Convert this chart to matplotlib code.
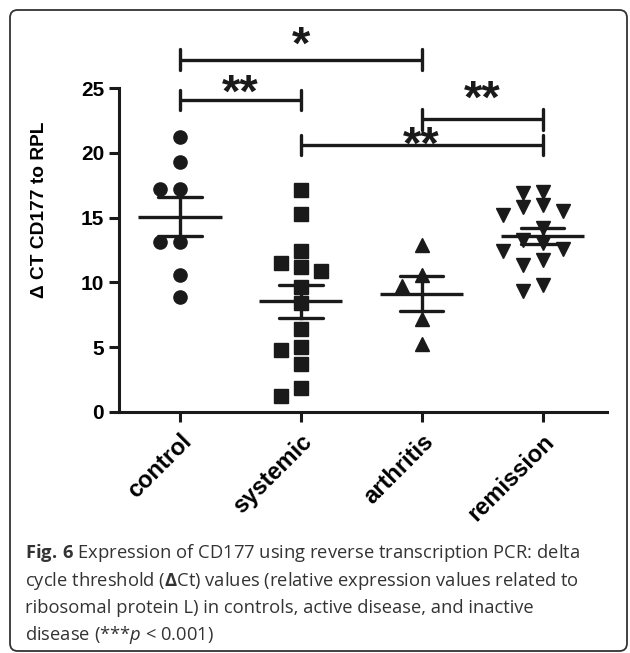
import matplotlib
matplotlib.use("Agg")
import matplotlib.pyplot as plt
import numpy as np
from matplotlib.patches import FancyBboxPatch

# values (delta Ct CD177 to RPL)
groups = ['control', 'systemic', 'arthritis', 'remission']
control = [21.2, 19.3, 17.2, 17.2, 13.1, 13.1, 10.6, 8.9]
systemic = [17.1, 15.3, 12.4, 11.5, 11.2, 10.9, 9.6, 8.4, 6.4, 5.0, 4.8, 3.7, 1.8, 1.2]
arthritis = [12.9, 10.6, 9.7, 7.2, 5.2]
remission = [17.0, 16.9, 16.0, 15.8, 15.5, 15.2, 14.2, 13.3, 13.0, 12.6, 12.4,
             11.7, 11.3, 9.8, 9.3]
markers = ['o', 's', '^', 'v']

# significance brackets
sig_pairs = [(0, 2), (0, 1), (2, 3), (1, 3)]
sig_heights = [27.2, 24.1, 22.6, 20.6]
sig_labels = ['*', '**', '**', '**']
sig_text_y = [28.2, 24.5, 24.0, 20.5]

caption = [
    r"$\mathbf{Fig.\,6}$ Expression of CD177 using reverse transcription PCR: delta",
    r"cycle threshold ($\mathbf{Δ}$Ct) values (relative expression values related to",
    r"ribosomal protein L) in controls, active disease, and inactive",
    r"disease (***$\mathit{p}$ < 0.001)",
]

plt.rcParams['font.family'] = ['Liberation Sans', 'DejaVu Sans']
plt.rcParams['mathtext.fontset'] = 'custom'
plt.rcParams['mathtext.rm'] = 'Open Sans'
plt.rcParams['mathtext.it'] = 'Open Sans:italic'
plt.rcParams['mathtext.bf'] = 'Open Sans:bold'

ink = '#1a1a1a'


def swarm_x(values, xpos, ax, step_px=20, min_px=12.5):
    # simple beeswarm: keep markers from overlapping, in pixel space
    tr = ax.transData
    placed = []
    offs = []
    for v in values:
        py = tr.transform((xpos, v))[1]
        for k in [0, -1, 1, -2, 2, -3, 3]:
            px = k * step_px
            if all(np.hypot(px - qx, py - qy) >= min_px for qx, qy in placed):
                break
        placed.append((px, py))
        offs.append(px)
    px_per_unit = tr.transform((1, 0))[0] - tr.transform((0, 0))[0]
    return xpos + np.array(offs) / px_per_unit


fig = plt.figure(figsize=(6.3, 6.53), dpi=100)
ax = fig.add_axes([0.1894, 0.3695, 0.7737, 0.5945])
ax.set_xlim(-0.5, 3.53)
ax.set_ylim(0, 30)

data = [control, systemic, arthritis, remission]
for i, vals in enumerate(data):
    vals = np.array(vals)
    xs = swarm_x(vals, i, ax)
    ax.plot(xs, vals, linestyle='none', marker=markers[i], ms=9.5,
            color=ink, mec=ink, zorder=2, clip_on=False)
    m = vals.mean()
    sem = vals.std(ddof=1) / np.sqrt(len(vals))
    ax.plot([i - 0.345, i + 0.345], [m, m], color=ink, lw=2.4, zorder=3,
            solid_capstyle='butt')
    for e in (m - sem, m + sem):
        ax.plot([i - 0.18, i + 0.18], [e, e], color=ink, lw=2.4, zorder=3,
                solid_capstyle='round')
    ax.plot([i, i], [m - sem, m + sem], color=ink, lw=2.4, zorder=3)

for (a, b), h, lab, ty in zip(sig_pairs, sig_heights, sig_labels, sig_text_y):
    ax.plot([a, b], [h, h], color=ink, lw=2.4, clip_on=False,
            solid_capstyle='butt')
    for xx in (a, b):
        ax.plot([xx, xx], [h - 0.8, h + 0.8], color=ink, lw=2.4,
                clip_on=False, solid_capstyle='round')
    ax.text((a + b) / 2, ty, lab, ha='center', va='center', fontsize=34,
            fontweight='bold', color=ink)

for s in ['top', 'right']:
    ax.spines[s].set_visible(False)
ax.spines['left'].set_bounds(0, 25)
for s in ['left', 'bottom']:
    ax.spines[s].set_linewidth(2.2)
    ax.spines[s].set_color(ink)

ax.set_yticks([0, 5, 10, 15, 20, 25])
ax.set_xticks(range(len(groups)))
ax.set_xticklabels(groups, rotation=45, ha='right', rotation_mode='anchor')
ax.tick_params(axis='both', direction='out', length=7, width=2.2, color=ink)
ax.tick_params(axis='y', labelsize=15, pad=4)
ax.tick_params(axis='x', labelsize=17, pad=6)
for t in ax.get_xticklabels() + ax.get_yticklabels():
    t.set_fontweight('bold')

ax.set_ylabel('Δ CT CD177 to RPL', fontsize=13.8, fontweight='bold')
ax.yaxis.set_label_coords(-0.146, 0.52)

# caption
base_y = [558.3, 585.6, 612.9, 640.2]
for line, by in zip(caption, base_y):
    fig.text(25 / 630, 1 - by / 653, line, fontsize=13.2, color='#333333',
             family='Open Sans', va='baseline', ha='left')

frame = FancyBboxPatch((10 / 630, 2 / 653), 617 / 630, 641 / 653,
                       boxstyle='round,pad=0,rounding_size=0.012',
                       transform=fig.transFigure, fill=False,
                       edgecolor='#333333', lw=1.3)
fig.patches.append(frame)

fig.savefig('out.png', dpi=100)
